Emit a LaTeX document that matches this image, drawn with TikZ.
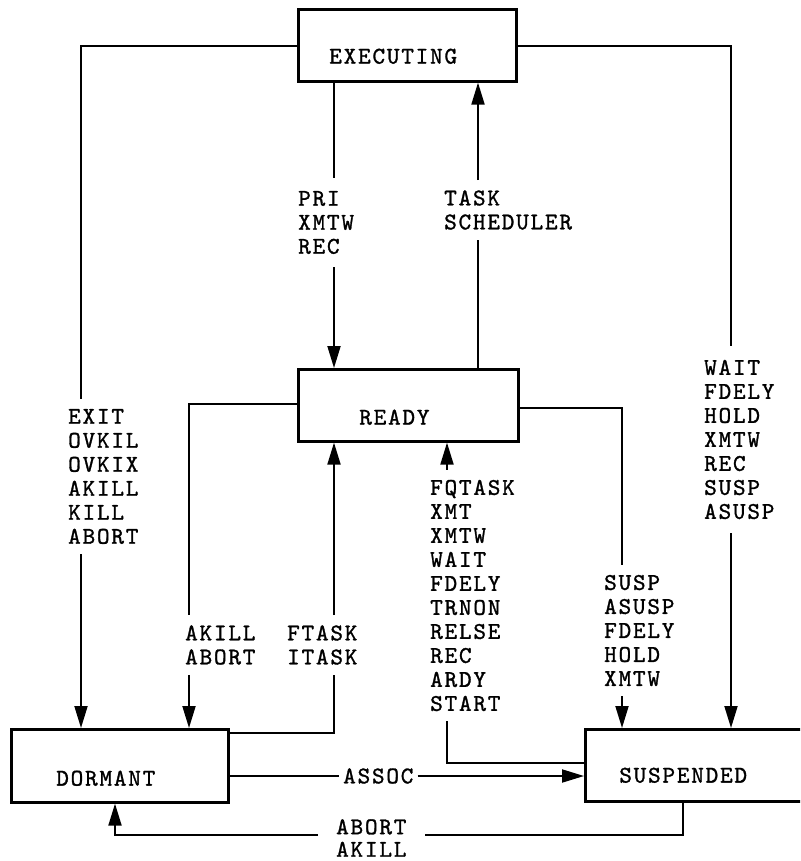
\documentclass[tikz,border=0pt]{standalone}
\usepackage{fontspec}
\usetikzlibrary{arrows.meta}
\newfontfamily\typ{lmmono10-regular}[Extension=.otf,LetterSpace=7.5,FakeBold=1.2]
\newcommand\lbl{\typ\fontsize{24}{24}\selectfont}
\begin{document}
\begin{tikzpicture}[x=1pt,y=-1pt,
  box/.style={draw, line width=2.6pt, inner sep=0pt, anchor=north west, font=\lbl, align=left},
  lab/.style={font=\lbl, align=left, inner xsep=0pt, inner ysep=10pt, anchor=west},
  conn/.style={line width=1.9pt},
  arr/.style={conn, -{Triangle[length=22pt,width=13pt]}}]
\useasboundingbox (0,0) rectangle (800,861);
\clip (0,0) rectangle (800,861);
% boxes
\node[box, text width=218pt, text height=54.3pt, text depth=17.7pt] (exec) at (297,8) {\hspace*{31pt}EXECUTING};
\node[box, text width=220pt, text height=55.3pt, text depth=16.7pt] (ready) at (297,368) {\hspace*{61pt}READY};
\node[box, text width=217pt, text height=56.3pt, text depth=16.7pt] (dormant) at (10,728) {\hspace*{45pt}DORMANT};
\node[box, text width=230pt, text height=53.3pt, text depth=18.7pt] (susp) at (584,728) {\hspace*{34pt}SUSPENDED};
% labels
\node[lab, inner ysep=13pt] (pri) at (298,222.5) {PRI\\XMTW\\REC};
\node[lab] (task) at (444,210) {TASK\\SCHEDULER};
\node[lab] (exit) at (68,476.5) {EXIT\\OVKIL\\OVKIX\\AKILL\\KILL\\ABORT};
\node[lab] (akill) at (185,645) {AKILL\\ABORT};
\node[lab] (ftask) at (287,645) {FTASK\\ITASK};
\node[lab] (fq) at (430,595.5) {FQTASK\\XMT\\XMTW\\WAIT\\FDELY\\TRNON\\RELSE\\REC\\ARDY\\START};
\node[lab] (sl) at (604,630.5) {SUSP\\ASUSP\\FDELY\\HOLD\\XMTW};
\node[lab, inner ysep=14pt] (wait) at (704,439.5) {WAIT\\FDELY\\HOLD\\XMTW\\REC\\SUSP\\ASUSP};
\node[lab, inner xsep=4pt, inner ysep=0pt] (assoc) at (339,776) {ASSOC};
\node[lab, font=\typ\fontsize{24}{22.5}\selectfont, inner xsep=18pt, inner ysep=0pt] (abak) at (318,838) {ABORT\\AKILL};
% corner coordinates
\coordinate (cExit) at (81,46);
\coordinate (cWait) at (731,46);
\coordinate (xPri) at (334,0);
\coordinate (xTask) at (478,0);
\coordinate (cAkill) at (189,404);
\coordinate (cSusp) at (622,408);
\coordinate (cFt) at (334,733);
\coordinate (cFq) at (447,763);
\coordinate (yAssoc) at (0,776);
\coordinate (cAbR) at (683,835);
\coordinate (cAbL) at (115,835);
% connectors
\draw[conn] (exec.west |- cExit) -- (cExit) -- (exit.north -| cExit);
\draw[arr] (exit.south -| cExit) -- (dormant.north -| cExit);
\draw[conn] (exec.east |- cWait) -- (cWait) -- (wait.north -| cWait);
\draw[arr] (wait.south -| cWait) -- (susp.north -| cWait);
\draw[conn] (exec.south -| xPri) -- (pri.north -| xPri);
\draw[arr] (pri.south -| xPri) -- (ready.north -| xPri);
\draw[conn] (ready.north -| xTask) -- (task.south -| xTask);
\draw[arr] (task.north -| xTask) -- (exec.south -| xTask);
\draw[conn] (ready.west |- cAkill) -- (cAkill) -- (akill.north -| cAkill);
\draw[arr] (akill.south -| cAkill) -- (dormant.north -| cAkill);
\draw[conn] (ready.east |- cSusp) -- (cSusp) -- (sl.north -| cSusp);
\draw[arr] (sl.south -| cSusp) -- (susp.north -| cSusp);
\draw[conn] (dormant.east |- cFt) -- (cFt) -- (ftask.south -| cFt);
\draw[arr] (ftask.north -| cFt) -- (ready.south -| cFt);
\draw[conn] (susp.west |- cFq) -- (cFq) -- (fq.south -| cFq);
\draw[arr] (fq.north -| cFq) -- (ready.south -| cFq);
\draw[conn] (dormant.east |- yAssoc) -- (assoc.west);
\draw[arr] (assoc.east) -- (susp.west |- yAssoc);
\draw[conn] (susp.south -| cAbR) -- (cAbR) -- (abak.east |- cAbR);
\draw[arr] (abak.west |- cAbL) -- (cAbL) -- (dormant.south -| cAbL);
\end{tikzpicture}
\end{document}
